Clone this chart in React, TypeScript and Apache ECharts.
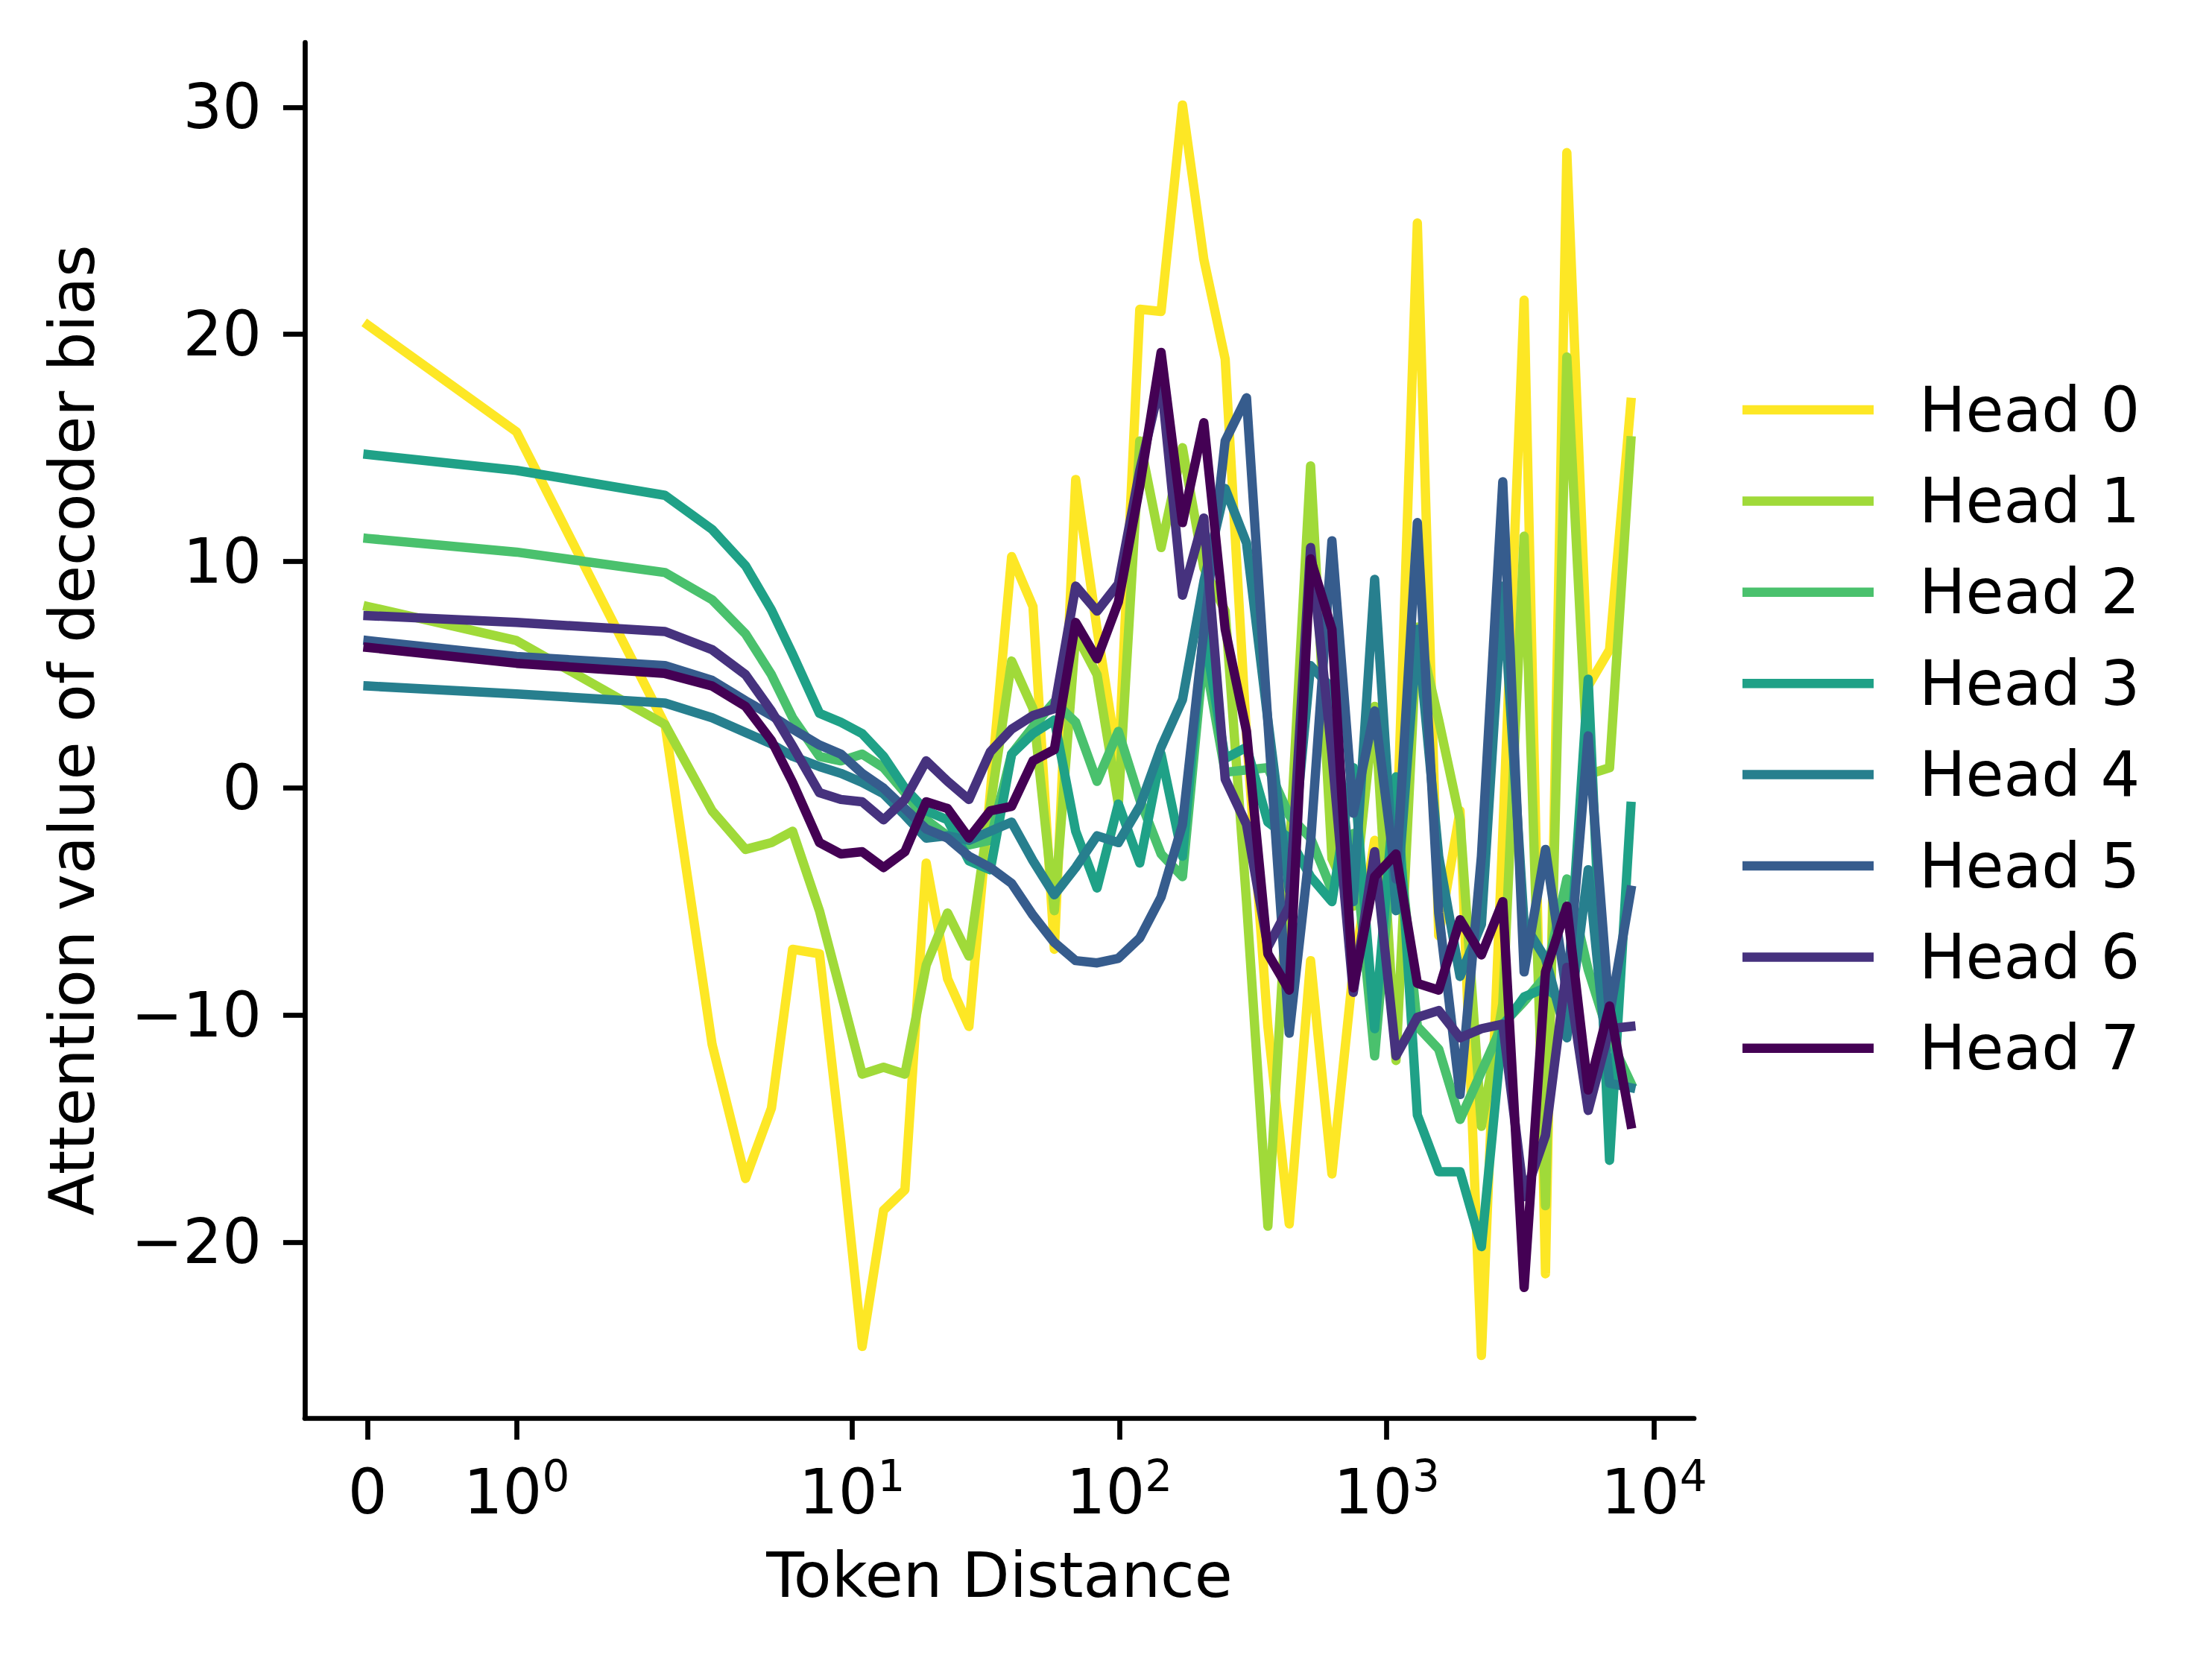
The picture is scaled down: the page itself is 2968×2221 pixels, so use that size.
import React, { useEffect, useRef } from "react";
import * as echarts from "echarts";

// Token distances (x) sampled by the figure
const X_DIST = [0, 1, 2, 3, 4, 5, 6, 7.56, 9.09, 10.92, 13.13, 15.78, 18.96, 22.79, 27.39, 32.92, 39.56, 47.55, 57.15, 68.69, 82.56, 99.2, 119.3, 143.3, 172.3, 207.1, 248.9, 299.1, 359.5, 432.1, 519.3, 624.1, 750.1, 901.6, 1083.6, 1302.4, 1565.4, 1881.4, 2261.4, 2718, 3266.8, 3926, 4719, 5672, 6817, 8192];

const HEAD_0 = [20.4, 15.7, 2.8, -11.3, -17.2, -14.1, -7.1, -7.3, -15.6, -24.6, -18.6, -17.7, -3.3, -8.4, -10.5, -0.2, 10.2, 8.0, -7.1, 13.6, 7.0, 1.0, 21.1, 21.0, 30.1, 23.3, 18.9, 2.3, -10.5, -19.2, -7.6, -17.0, -8.0, -2.3, -3.1, 24.9, -6.5, -1.0, -25.0, -2.0, 21.5, -21.4, 28.0, 4.5, 6.1, 17.0];
const HEAD_1 = [8.0, 6.5, 2.8, -1.0, -2.7, -2.4, -1.9, -5.4, -9.0, -12.6, -12.3, -12.6, -7.8, -5.5, -7.4, -0.8, 5.6, 3.5, -5.4, 6.8, 5.0, -0.7, 15.3, 10.6, 15.0, 9.7, 7.8, -5.0, -19.3, -3.0, 14.2, -3.1, -5.2, 3.6, -12.0, 7.1, 3.0, -1.4, -14.9, -9.5, 11.1, -18.4, 19.0, 0.6, 0.9, 15.3];
const HEAD_2 = [11.0, 10.4, 9.5, 8.3, 6.8, 5.0, 3.1, 1.4, 1.2, 1.5, 0.9, -0.2, -1.4, -2.1, -2.5, -2.3, 1.5, 2.7, 3.8, 2.9, 0.3, 2.5, -0.5, -2.9, -3.9, 6.0, 0.7, 0.8, 0.9, -1.2, -2.2, -4.5, -2.0, -11.8, -1.0, -10.5, -11.5, -14.6, -12.5, -10.4, -9.4, -8.3, -4.0, -8.0, -11.0, -13.0];
const HEAD_3 = [14.7, 14.0, 12.9, 11.4, 9.8, 7.85, 5.9, 3.3, 2.9, 2.4, 1.4, 0.0, -1.0, -1.4, -3.2, -3.6, 1.5, 2.4, 3.0, -1.9, -4.4, -0.7, -3.3, 1.5, -3.0, 7.0, 1.3, 1.8, -1.5, -2.2, -3.9, -5.0, 0.9, -10.6, 0.5, -14.4, -16.9, -16.9, -20.2, -10.5, -9.2, -8.8, -9.5, 4.8, -16.4, -0.8];
const HEAD_4 = [4.5, 4.15, 3.75, 3.1, 2.45, 1.95, 1.4, 0.95, 0.65, 0.25, -0.25, -1.2, -2.2, -2.1, -2.3, -1.9, -1.5, -3.2, -4.7, -3.5, -2.1, -2.4, -0.8, 1.8, 3.9, 9.1, 13.2, 10.8, 3.0, -4.5, 5.4, 4.4, -5.0, 9.2, -5.4, 7.0, -3.0, -8.3, -6.0, 8.9, -6.0, -7.5, -11.0, -3.6, -13.0, -13.2];
const HEAD_5 = [6.5, 5.8, 5.4, 4.75, 3.85, 3.2, 2.6, 1.9, 1.5, 0.65, 0.0, -0.9, -1.8, -2.2, -3.0, -3.5, -4.2, -5.6, -6.8, -7.6, -7.7, -7.5, -6.6, -4.8, -1.6, 6.9, 15.3, 17.2, 2.9, -10.8, -2.4, 10.9, -1.1, 3.4, -4.0, 11.7, -5.5, -13.5, -3.0, 13.5, -8.1, -2.7, -9.1, 2.3, -10.0, -4.5];
const HEAD_6 = [7.6, 7.3, 6.9, 6.1, 5.0, 3.4, 1.85, -0.2, -0.5, -0.6, -1.4, -0.5, 1.2, 0.3, -0.5, 1.6, 2.6, 3.2, 3.5, 8.9, 7.8, 9.0, 14.0, 18.0, 8.5, 11.9, 0.4, -1.6, -7.0, -5.2, 10.6, 1.5, -9.0, -2.8, -11.8, -10.1, -9.8, -11.0, -10.6, -10.4, -18.0, -15.3, -7.9, -14.2, -10.6, -10.5];
const HEAD_7 = [6.2, 5.5, 5.05, 4.5, 3.6, 2.1, 0.25, -2.4, -2.9, -2.8, -3.5, -2.8, -0.6, -0.9, -2.2, -1.0, -0.8, 1.2, 1.7, 7.3, 5.7, 8.2, 13.3, 19.2, 11.7, 16.1, 7.0, 2.5, -7.3, -8.9, 10.1, 7.0, -8.8, -3.9, -2.9, -8.6, -8.9, -5.8, -7.35, -5.0, -22.0, -8.1, -5.2, -13.3, -9.6, -14.8];

const HEAD_VALUES = [HEAD_0, HEAD_1, HEAD_2, HEAD_3, HEAD_4, HEAD_5, HEAD_6, HEAD_7];
const HEAD_NAMES = ["Head 0", "Head 1", "Head 2", "Head 3", "Head 4", "Head 5", "Head 6", "Head 7"];
const HEAD_COLORS = ["#fde725", "#a0da39", "#4ac16d", "#1fa187", "#277f8e", "#365c8d", "#46327e", "#440154"];

const Y_TICKS = [-20, -10, 0, 10, 20, 30];
const X_TICKS = [0, 1, 10, 100, 1000, 10000];
const X_TICK_LABELS = ["{n|0}{e| }", "{n|10}{sup|0}", "{n|10}{sup|1}", "{n|10}{sup|2}", "{n|10}{sup|3}", "{n|10}{sup|4}"];

const FONT = "DejaVu Sans";
const FS = 83;

// matplotlib-style symlog scale (linthresh = 2, linscale = 1, base 10)
const LINTHRESH = 2;
const LINSCALE_ADJ = 1 / (1 - 1 / 10);
function symlog(x: number): number {
  const a = Math.abs(x);
  if (a <= LINTHRESH) return x * LINSCALE_ADJ;
  return Math.sign(x) * LINTHRESH * (LINSCALE_ADJ + Math.log10(a / LINTHRESH));
}

export default function App() {
  const ref = useRef<HTMLDivElement>(null);

  useEffect(() => {
    if (!ref.current) return;
    const chart = echarts.init(ref.current, undefined, { renderer: "svg" });

    const xt = X_DIST.map(symlog);
    const xMinD = Math.min(...xt);
    const xMaxD = Math.max(...xt);
    const xPad = (xMaxD - xMinD) * 0.05;
    const all = HEAD_VALUES.flat();
    const yMinD = Math.min(...all);
    const yMaxD = Math.max(...all);
    const yPad = (yMaxD - yMinD) * 0.05;
    const xTickPos = X_TICKS.map(symlog);

    const series = HEAD_VALUES.map((vals, i) => ({
      name: HEAD_NAMES[i],
      type: "line",
      data: vals.map((v, j) => [xt[j], v]),
      showSymbol: false,
      symbol: "none",
      z: 2 + i,
      silent: true,
      itemStyle: { color: HEAD_COLORS[i] },
      lineStyle: { color: HEAD_COLORS[i], width: 12.5, join: "round", cap: "square" },
    }));

    chart.setOption({
      animation: false,
      backgroundColor: "#ffffff",
      grid: { left: 409, top: 57, width: 1864, height: 1846, containLabel: false },
      legend: {
        data: HEAD_NAMES,
        orient: "vertical",
        left: 2333,
        top: 495,
        icon: "rect",
        itemWidth: 176,
        itemHeight: 12.5,
        itemGap: 22.4,
        selectedMode: false,
        textStyle: { fontFamily: FONT, fontSize: FS, color: "#000", lineHeight: 100, padding: [0, 0, 0, 56] },
      },
      xAxis: {
        type: "value",
        min: xMinD - xPad,
        max: xMaxD + xPad,
        name: "Token Distance",
        nameLocation: "middle",
        nameGap: 170,
        nameTextStyle: { fontFamily: FONT, fontSize: FS, color: "#000" },
        axisLine: { show: true, onZero: false, lineStyle: { color: "#000", width: 6.7 } },
        axisTick: { show: true, length: 29, lineStyle: { color: "#000", width: 6.7 }, customValues: xTickPos },
        axisLabel: {
          show: true,
          margin: 58,
          customValues: xTickPos,
          fontFamily: FONT,
          fontSize: FS,
          color: "#000",
          formatter: (v: number) => {
            const idx = xTickPos.findIndex((p) => Math.abs(p - v) < 1e-6);
            return idx >= 0 ? X_TICK_LABELS[idx] : "";
          },
          rich: {
            n: { fontFamily: FONT, fontSize: FS, color: "#000", verticalAlign: "bottom", lineHeight: 83 },
            sup: { fontFamily: FONT, fontSize: 58, color: "#000", verticalAlign: "bottom", lineHeight: 58, padding: [0, 0, 34, 0] },
            e: { fontFamily: FONT, fontSize: 58, color: "#000", verticalAlign: "bottom", lineHeight: 58, padding: [0, 0, 34, 0], width: 1 },
          },
        },
        splitLine: { show: false },
      },
      yAxis: {
        type: "value",
        min: yMinD - yPad,
        max: yMaxD + yPad,
        name: "Attention value of decoder bias",
        nameLocation: "middle",
        nameRotate: 90,
        nameGap: 270,
        nameTextStyle: { fontFamily: FONT, fontSize: FS, color: "#000" },
        axisLine: { show: true, onZero: false, lineStyle: { color: "#000", width: 6.7 } },
        axisTick: { show: true, length: 29, lineStyle: { color: "#000", width: 6.7 }, customValues: Y_TICKS },
        axisLabel: {
          show: true,
          margin: 58,
          customValues: Y_TICKS,
          fontFamily: FONT,
          fontSize: FS,
          color: "#000",
          formatter: (v: number) => (v < 0 ? "\u2212" + Math.abs(v) : String(v)),
        },
        splitLine: { show: false },
      },
      series,
    });

    return () => chart.dispose();
  }, []);

  return (
    <div
      ref={ref}
      style={{ position: "fixed", left: 0, top: 0, width: 2968, height: 2221, background: "#ffffff" }}
    />
  );
}
